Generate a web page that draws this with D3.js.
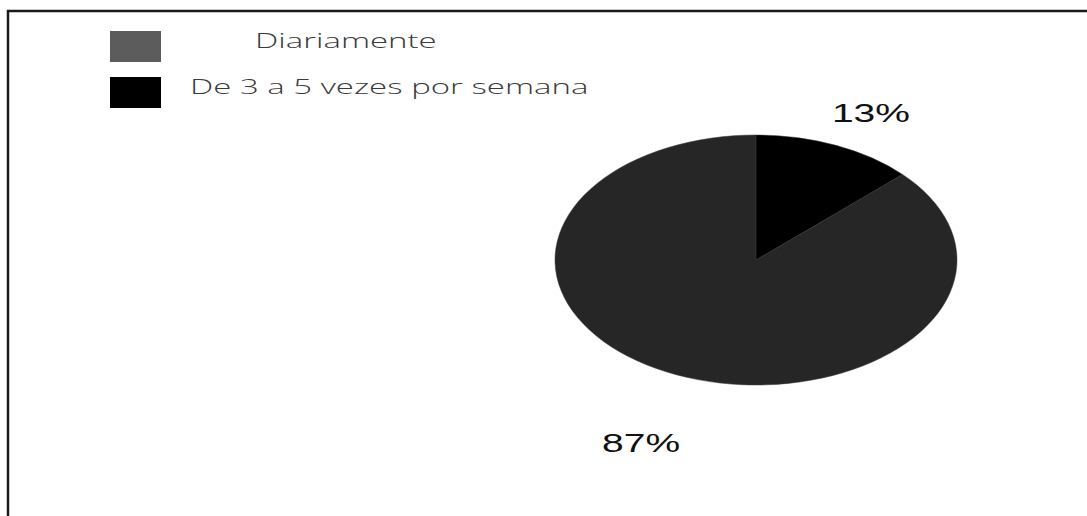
<!DOCTYPE html>
<html>
<head>
<meta charset="utf-8">
<script src="https://cdn.jsdelivr.net/npm/d3@7"></script>
<style>
  html, body { margin: 0; padding: 0; background: #fff; }
  svg { display: block; }
</style>
</head>
<body>
<svg id="chart" width="1087" height="516"></svg>
<script>
// Survey answers: how often
const categories = ["Diariamente", "De 3 a 5 vezes por semana"];
const values = [87, 13];
const valueLabels = ["87%", "13%"];

// Styling
const sliceColors = ["#262626", "#000000"];
const swatchColors = ["#5c5c5c", "#000000"];

const W = 1087, H = 516;
const svg = d3.select("#chart");

// Frame: top and left rules
svg.append("path")
  .attr("d", `M8,${H} L8,11 L${W},11`)
  .attr("fill", "none")
  .attr("stroke", "#1a1a1a")
  .attr("stroke-width", 2.5);

// Pie, drawn on a circle and stretched into an ellipse
const cx = 756, cy = 260, ry = 125, rx = 201;
const sx = rx / ry;
const total = d3.sum(values);
const start = 2 * Math.PI * values[1] / total;

const pie = d3.pie().sort(null).value(d => d)
  .startAngle(start).endAngle(start + 2 * Math.PI);
const arcs = pie(values);
const arc = d3.arc().innerRadius(0).outerRadius(ry);

const g = svg.append("g").attr("transform", `translate(${cx},${cy}) scale(${sx},1)`);
g.selectAll("path.slice")
  .data(arcs)
  .join("path")
  .attr("class", "slice")
  .attr("d", arc)
  .attr("fill", (d, i) => sliceColors[i])
  .attr("stroke", "#3a3a3a")
  .attr("stroke-width", 0.4);

// Percentage labels outside the pie
const labelArc = d3.arc().innerRadius(180).outerRadius(180);
svg.selectAll("text.pct")
  .data(arcs)
  .join("text")
  .attr("class", "pct")
  .attr("transform", (d) => {
    const [x, y] = labelArc.centroid(d);
    return `translate(${cx + x * sx},${cy + y + 27}) scale(1.5,1)`;
  })
  .attr("text-anchor", "middle")
  .attr("font-family", "Liberation Sans, Arial, sans-serif")
  .attr("font-size", 26)
  .attr("fill", "#111")
  .text((d, i) => valueLabels[i]);

// Legend
const legendTextX = [255, 190];
const legendRowY = [31, 77];
const legend = svg.append("g");
categories.forEach((c, i) => {
  legend.append("rect")
    .attr("x", 110).attr("y", legendRowY[i])
    .attr("width", 51).attr("height", 31)
    .attr("fill", swatchColors[i]);
  legend.append("text")
    .attr("transform", `translate(${legendTextX[i]},${legendRowY[i] + 17}) scale(1.57,1)`)
    .attr("font-family", "Open Sans, sans-serif")
    .attr("font-size", 21)
    .attr("font-weight", 300)
    .attr("fill", "#3a3a3a")
    .text(c);
});
</script>
</body>
</html>
